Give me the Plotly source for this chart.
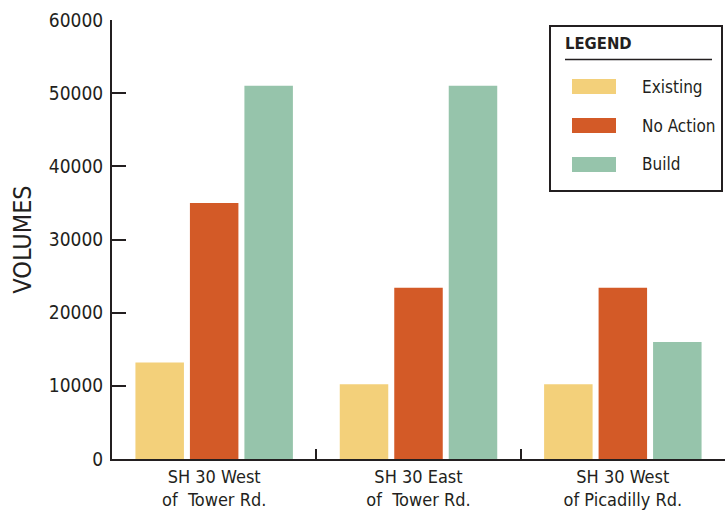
import plotly.graph_objects as go

# Traffic volumes by location and scenario
locations = ["SH 30 West<br>of  Tower Rd.", "SH 30 East<br>of  Tower Rd.", "SH 30 West<br>of Picadilly Rd."]
series_names = ["Existing", "No Action", "Build"]
existing = [13200, 10200, 10200]
no_action = [35000, 23400, 23400]
build = [51000, 51000, 16000]
series_values = [existing, no_action, build]
series_colors = ["#F3D07A", "#D35A27", "#96C4AB"]
y_ticks = [0, 10000, 20000, 30000, 40000, 50000, 60000]

FONT = "Liberation Sans Narrow, DejaVu Sans Condensed, Arial Narrow, sans-serif"
INK = "#231F20"

W, H = 725, 516
ML, MR, MT, MB = 112, 0, 20, 57
PW, PH = W - ML - MR, H - MT - MB


def px_x(x):
    return (x - ML) / PW


def px_y(y):
    return (H - MB - y) / PH


fig = go.Figure()
for name, vals, col in zip(series_names, series_values, series_colors):
    fig.add_trace(go.Bar(x=locations, y=vals, name=name, marker=dict(color=col, line=dict(width=0)),
                         showlegend=False))

# Boxed legend drawn with shapes and text
shapes = [
    dict(type="rect", xref="paper", yref="paper", x0=px_x(550), x1=px_x(722), y0=px_y(191), y1=px_y(26),
         line=dict(color=INK, width=2), fillcolor="white", layer="above"),
    dict(type="line", xref="paper", yref="paper", x0=px_x(565), x1=px_x(712), y0=px_y(59.5), y1=px_y(59.5),
         line=dict(color=INK, width=1.5), layer="above"),
]
annotations = [
    dict(text="<b>LEGEND</b>", xref="paper", yref="paper", x=px_x(563), y=px_y(44), xanchor="left",
         yanchor="middle", showarrow=False, font=dict(family=FONT, size=16.5, color=INK)),
]
for i, (name, col) in enumerate(zip(series_names, series_colors)):
    cy = 86.5 + i * 39
    shapes.append(dict(type="rect", xref="paper", yref="paper", x0=px_x(572), x1=px_x(616),
                       y0=px_y(cy + 7.5), y1=px_y(cy - 7.5), line=dict(width=0), fillcolor=col,
                       layer="above"))
    annotations.append(dict(text=name, xref="paper", yref="paper", x=px_x(640), y=px_y(cy),
                            xanchor="left", yanchor="middle", showarrow=False,
                            font=dict(family=FONT, size=17, color=INK)))

fig.update_layout(
    width=W, height=H,
    margin=dict(l=ML, r=MR, t=MT, b=MB, autoexpand=False),
    paper_bgcolor="white", plot_bgcolor="white",
    barmode="group", bargap=0.2, bargroupgap=0.11,
    font=dict(family=FONT, size=18, color=INK),
    shapes=shapes, annotations=annotations,
    xaxis=dict(
        type="category", range=[-0.5, 2.5], showgrid=False, zeroline=False,
        showline=True, linecolor=INK, linewidth=2,
        ticks="inside", tickson="boundaries", ticklen=10, tickwidth=2, tickcolor=INK,
        tickfont=dict(family=FONT, size=18, color=INK),
    ),
    yaxis=dict(
        range=[0, 60000], tickvals=y_ticks, ticktext=[str(v) for v in y_ticks],
        showgrid=False, zeroline=False, showline=True, linecolor=INK, linewidth=2,
        ticks="inside", ticklen=14, tickwidth=2, tickcolor=INK,
        tickfont=dict(family=FONT, size=19, color=INK), ticklabelstandoff=3,
        title=dict(text="VOLUMES", standoff=10, font=dict(family=FONT, size=25, color=INK)),
    ),
)

fig.write_html("out.html")
